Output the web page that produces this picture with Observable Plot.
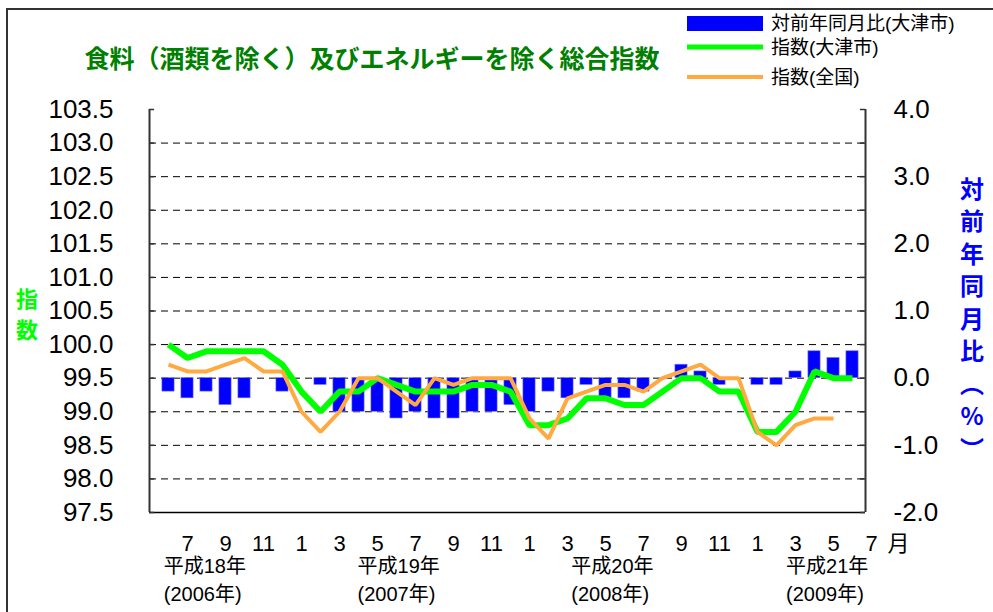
<!DOCTYPE html>
<html>
<head>
<meta charset="utf-8">
<script src="https://cdn.jsdelivr.net/npm/d3@7"></script>
<script src="https://cdn.jsdelivr.net/npm/@observablehq/plot@0.6"></script>
<style>
  body { margin: 0; background: #fff; }
  #chart { position: relative; width: 993px; height: 612px; overflow: hidden; }
</style>
</head>
<body>
<div id="chart"></div>
<script>
// ---- data (June 2006 .. June 2009, month index 0..36) ----
const monthIndex = d3.range(0, 37);
const otsuIndex = [100.0, 99.8, 99.9, 99.9, 99.9, 99.9, 99.7, 99.3, 99.0, 99.3, 99.3, 99.5,
                   99.4, 99.3, 99.3, 99.3, 99.4, 99.4, 99.3, 98.8, 98.8, 98.9, 99.2, 99.2,
                   99.1, 99.1, 99.3, 99.5, 99.5, 99.3, 99.3, 98.7, 98.7, 99.0, 99.6, 99.5, 99.5];
const zenkokuIndex = [99.7, 99.6, 99.6, 99.7, 99.8, 99.6, 99.6, 99.0, 98.7, 99.0, 99.5, 99.5,
                      99.3, 99.1, 99.5, 99.4, 99.5, 99.5, 99.5, 98.9, 98.6, 99.2, 99.3, 99.4,
                      99.4, 99.3, 99.5, 99.6, 99.7, 99.5, 99.5, 98.7, 98.5, 98.8, 98.9, 98.9];
const otsuYoY = [-0.2, -0.3, -0.2, -0.4, -0.3, 0.0, -0.2, 0.0, -0.1, -0.5, -0.5, -0.5,
                 -0.6, -0.5, -0.6, -0.6, -0.5, -0.5, -0.4, -0.5, -0.2, -0.3, -0.1, -0.3,
                 -0.3, -0.2, 0.0, 0.2, 0.1, -0.1, 0.0, -0.1, -0.1, 0.1, 0.4, 0.3, 0.4];

const monthTickIdx = [1, 3, 5, 7, 9, 11, 13, 15, 17, 19, 21, 23, 25, 27, 29, 31, 33, 35, 37];
const monthTickLabels = ["7", "9", "11", "1", "3", "5", "7", "9", "11", "1", "3", "5", "7", "9", "11", "1", "3", "5", "7"];
const monthUnit = "月";
const leftTicks = d3.range(0, 13).map(k => 97.5 + k * 0.5);
const gridTicks = leftTicks.slice(1, 12);
const rightTickValues = [-2, -1, 0, 1, 2, 3, 4];
const rightZero = 99.5; // right-axis 0.0 sits at left-axis 99.5 (same unit size)
const eraLabels = ["平成18年", "平成19年", "平成20年", "平成21年"];
const westernLabels = ["(2006年)", "(2007年)", "(2008年)", "(2009年)"];
const yearLabelIdx = [-0.25, 9.95, 21.2, 32.5];
const seriesNames = ["対前年同月比(大津市)", "指数(大津市)", "指数(全国)"];
const seriesColors = ["#0000FF", "#00FF00", "#FFA940"];
const titleText = "食料（酒類を除く）及びエネルギーを除く総合指数";
const leftLabel = ["指", "数"];
const rightLabel = ["対", "前", "年", "同", "月", "比", "︵", "%", "︶"];

// ---- tables ----
const otsu = monthIndex.map(i => ({i, v: otsuIndex[i]}));
const zenkoku = zenkokuIndex.map((v, i) => ({i, v}));
const yoy = monthIndex.map(i => ({i, v: otsuYoY[i]}));
const mTicks = monthTickIdx.map((i, k) => ({i, label: monthTickLabels[k]}));
const years = eraLabels.map((e, k) => ({i: yearLabelIdx[k], era: e, west: westernLabels[k]}));

const xDomain = [-1, 36.684];
const font = "'Liberation Sans', 'Noto Sans CJK JP', sans-serif";

const plot = Plot.plot({
  width: 993,
  height: 612,
  marginLeft: 149,
  marginRight: 128,
  marginTop: 109,
  marginBottom: 100,
  style: {fontFamily: font, fontSize: "26px", background: "transparent", overflow: "visible", color: "#000"},
  x: {type: "linear", domain: xDomain, axis: null},
  y: {domain: [97.5, 103.5]},
  marks: [
    // dashed gridlines
    Plot.ruleY(gridTicks, {stroke: "#000", strokeWidth: 1, strokeDasharray: "7,5"}),
    // bars: year-on-year change (right axis)
    Plot.rectY(yoy.filter(d => d.v !== 0), {
      x1: d => d.i - 0.32, x2: d => d.i + 0.32,
      y1: () => rightZero, y2: d => rightZero + d.v,
      fill: "#0000FF", stroke: "#6f6fff", strokeWidth: 0.6
    }),
    // lines
    Plot.line(otsu, {x: "i", y: "v", stroke: "#00FF00", strokeWidth: 6, strokeLinejoin: "miter", strokeLinecap: "butt"}),
    Plot.line(zenkoku, {x: "i", y: "v", stroke: "#FFA940", strokeWidth: 4, strokeLinejoin: "miter", strokeLinecap: "butt"}),
    // frame lines (left, right, bottom)
    Plot.ruleX(xDomain, {stroke: "#333", strokeWidth: 2}),
    Plot.ruleY([97.5], {stroke: "#000", strokeWidth: 1.5}),
    // inward ticks
    Plot.ruleY(leftTicks, {x1: xDomain[0], x2: xDomain[0] + 0.27, stroke: "#333", strokeWidth: 1.5}),
    Plot.ruleY(leftTicks, {x1: xDomain[1] - 0.27, x2: xDomain[1], stroke: "#333", strokeWidth: 1.5}),
    // axes
    Plot.axisY({anchor: "left", ticks: leftTicks, tickFormat: d => d.toFixed(1), tickSize: 0, tickPadding: 36, fontSize: 26, label: null}),
    Plot.axisY({anchor: "right", ticks: rightTickValues.map(v => v + rightZero), tickFormat: d => (d - rightZero).toFixed(1), tickSize: 0, tickPadding: 28, fontSize: 26, label: null}),
    // month labels
    Plot.text(mTicks, {x: "i", text: "label", frameAnchor: "bottom", dy: 38, fontSize: 22, clip: false}),
    Plot.text([monthUnit], {x: () => 37, text: d => d, frameAnchor: "bottom", dy: 38, dx: 27, fontSize: 22}),
    // year labels
    Plot.text(years, {x: "i", text: "era", frameAnchor: "bottom", dy: 60, textAnchor: "start", fontSize: 20}),
    Plot.text(years, {x: "i", text: "west", frameAnchor: "bottom", dy: 88, textAnchor: "start", fontSize: 20})
  ]
});

document.getElementById("chart").appendChild(plot);

// ---- decorations: outer frame, title, legend, axis titles ----
const svg = d3.select(plot);
svg.insert("rect", ":first-child")
  .attr("x", 7).attr("y", 9).attr("width", 1000).attr("height", 700)
  .attr("fill", "#fff").attr("stroke", "#333").attr("stroke-width", 2);

svg.append("text")
  .attr("x", 372).attr("y", 57)
  .attr("text-anchor", "middle").attr("dominant-baseline", "central")
  .attr("font-family", "'Noto Sans CJK JP', sans-serif")
  .attr("font-size", 25).attr("font-weight", "bold")
  .attr("fill", "#008000")
  .text(titleText);

// legend
const lg = svg.append("g");
lg.append("rect").attr("x", 687).attr("y", 16).attr("width", 76).attr("height", 15).attr("fill", seriesColors[0]);
lg.append("line").attr("x1", 687).attr("x2", 763).attr("y1", 47).attr("y2", 47).attr("stroke", seriesColors[1]).attr("stroke-width", 5);
lg.append("line").attr("x1", 687).attr("x2", 763).attr("y1", 77).attr("y2", 77).attr("stroke", seriesColors[2]).attr("stroke-width", 4);
[23, 47, 77].forEach((y, k) => {
  lg.append("text").attr("x", 771).attr("y", y)
    .attr("text-anchor", "start")
    .attr("dominant-baseline", "central")
    .attr("font-family", font).attr("font-size", 19)
    .attr("fill", "#000")
    .text(seriesNames[k]);
});

// left axis title
leftLabel.forEach((c, k) => {
  svg.append("text").attr("x", 27).attr("y", 297 + k * 31)
    .attr("text-anchor", "middle").attr("dominant-baseline", "central")
    .attr("font-family", "'Noto Sans CJK JP', sans-serif")
    .attr("font-size", 22).attr("font-weight", "bold").attr("fill", "#00FF00")
    .text(c);
});
// right axis title
rightLabel.forEach((c, k) => {
  svg.append("text").attr("x", 972).attr("y", 187 + k * 32.5)
    .attr("text-anchor", "middle").attr("dominant-baseline", "central")
    .attr("font-family", "'Noto Sans CJK JP', sans-serif")
    .attr("font-size", 24).attr("font-weight", "bold").attr("fill", "#0000FF")
    .text(c);
});
</script>
</body>
</html>
